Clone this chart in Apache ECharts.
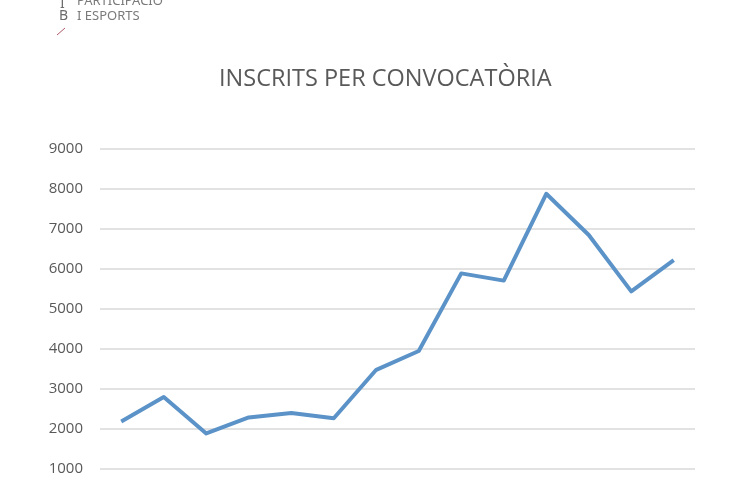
<!DOCTYPE html>
<html>
<head>
<meta charset="utf-8">
<script src="https://cdn.jsdelivr.net/npm/echarts@6/dist/echarts.min.js"></script>
<style>
html,body{margin:0;padding:0;background:#fff;overflow:hidden;width:730px;height:500px;}
#c{width:730px;height:540px;}
</style>
</head>
<body>
<div id="c"></div>
<script>
const categories = ['1','2','3','4','5','6','7','8','9','10','11','12','13','14'];
const inscrits = [2190, 2800, 1890, 2290, 2400, 2270, 3480, 3950, 5890, 5710, 7880, 6850, 5440, 6220];
const titleText = 'INSCRITS PER CONVOCATÒRIA';
const logoLines = ['PARTICIPACIÓ', 'I ESPORTS'];
const logoLetters = ['I', 'B'];

const chart = echarts.init(document.getElementById('c'));
chart.setOption({
  animation: false,
  backgroundColor: '#fff',
  title: {
    text: titleText,
    left: 214, top: 62,
    textStyle: {fontFamily: 'Open Sans', fontWeight: 'normal', fontSize: 23.5, color: '#595959'}
  },
  graphic: [
    {type: 'text', left: 60, top: -3, style: {text: logoLetters[0], font: '14px "Noto Sans"', fill: '#6b6b6b'}},
    {type: 'text', left: 59, top: 9, style: {text: logoLetters[1], font: '14px "Noto Sans"', fill: '#6b6b6b'}},
    {type: 'text', left: 77, top: -5, style: {text: logoLines[0], font: '13px "Noto Sans"', fill: '#7a7a7a'}},
    {type: 'text', left: 77, top: 10, style: {text: logoLines[1], font: '13px "Noto Sans"', fill: '#7a7a7a'}},
    {type: 'line', shape: {x1: 57, y1: 35, x2: 65, y2: 28}, style: {stroke: '#b05a6a', lineWidth: 1}}
  ],
  grid: {left: 100, right: 35, top: 149, bottom: 31, containLabel: false},
  xAxis: {
    type: 'category', data: categories, boundaryGap: true,
    axisLine: {show: false}, axisTick: {show: false}, axisLabel: {show: false}
  },
  yAxis: {
    type: 'value', min: 0, max: 9000, interval: 1000,
    axisLine: {show: false}, axisTick: {show: false},
    axisLabel: {margin: 17, fontFamily: 'Open Sans', fontSize: 15, color: '#595959', formatter: v => String(v)},
    splitLine: {lineStyle: {color: '#d9d9d9', width: 1.5}}
  },
  series: [{
    type: 'line', data: inscrits, showSymbol: false, symbol: 'none',
    lineStyle: {color: '#5b93c8', width: 4, join: 'round'}
  }]
});
</script>
</body>
</html>
